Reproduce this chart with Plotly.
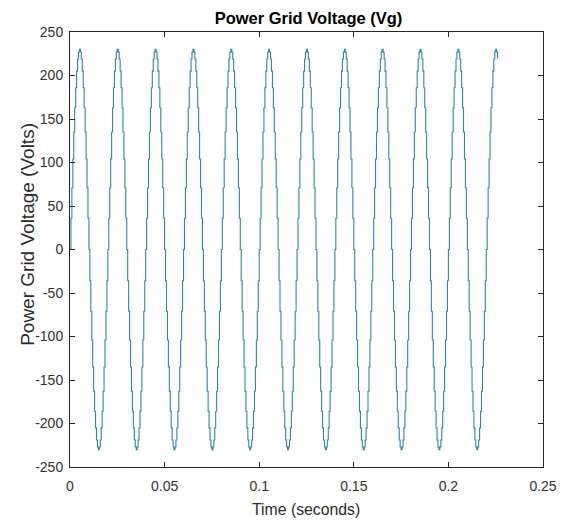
import plotly.graph_objects as go

# Sampling interval of the recorded signal (seconds)
sample_period = 0.0005

# Grid voltage samples (Volts), one per sample period
voltage_v = [
    0, 36, 71, 104, 135, 163, 186, 205, 219, 227, 230, 227, 219, 205, 186, 163, 135, 104, 71, 36,
    0, -36, -71, -104, -135, -163, -186, -205, -219, -227, -230, -227, -219, -205, -186, -163, -135, -104, -71, -36,
    0, 36, 71, 104, 135, 163, 186, 205, 219, 227, 230, 227, 219, 205, 186, 163, 135, 104, 71, 36,
    0, -36, -71, -104, -135, -163, -186, -205, -219, -227, -230, -227, -219, -205, -186, -163, -135, -104, -71, -36,
    0, 36, 71, 104, 135, 163, 186, 205, 219, 227, 230, 227, 219, 205, 186, 163, 135, 104, 71, 36,
    0, -36, -71, -104, -135, -163, -186, -205, -219, -227, -230, -227, -219, -205, -186, -163, -135, -104, -71, -36,
    0, 36, 71, 104, 135, 163, 186, 205, 219, 227, 230, 227, 219, 205, 186, 163, 135, 104, 71, 36,
    0, -36, -71, -104, -135, -163, -186, -205, -219, -227, -230, -227, -219, -205, -186, -163, -135, -104, -71, -36,
    0, 36, 71, 104, 135, 163, 186, 205, 219, 227, 230, 227, 219, 205, 186, 163, 135, 104, 71, 36,
    0, -36, -71, -104, -135, -163, -186, -205, -219, -227, -230, -227, -219, -205, -186, -163, -135, -104, -71, -36,
    0, 36, 71, 104, 135, 163, 186, 205, 219, 227, 230, 227, 219, 205, 186, 163, 135, 104, 71, 36,
    0, -36, -71, -104, -135, -163, -186, -205, -219, -227, -230, -227, -219, -205, -186, -163, -135, -104, -71, -36,
    0, 36, 71, 104, 135, 163, 186, 205, 219, 227, 230, 227, 219, 205, 186, 163, 135, 104, 71, 36,
    0, -36, -71, -104, -135, -163, -186, -205, -219, -227, -230, -227, -219, -205, -186, -163, -135, -104, -71, -36,
    0, 36, 71, 104, 135, 163, 186, 205, 219, 227, 230, 227, 219, 205, 186, 163, 135, 104, 71, 36,
    0, -36, -71, -104, -135, -163, -186, -205, -219, -227, -230, -227, -219, -205, -186, -163, -135, -104, -71, -36,
    0, 36, 71, 104, 135, 163, 186, 205, 219, 227, 230, 227, 219, 205, 186, 163, 135, 104, 71, 36,
    0, -36, -71, -104, -135, -163, -186, -205, -219, -227, -230, -227, -219, -205, -186, -163, -135, -104, -71, -36,
    0, 36, 71, 104, 135, 163, 186, 205, 219, 227, 230, 227, 219, 205, 186, 163, 135, 104, 71, 36,
    0, -36, -71, -104, -135, -163, -186, -205, -219, -227, -230, -227, -219, -205, -186, -163, -135, -104, -71, -36,
    0, 36, 71, 104, 135, 163, 186, 205, 219, 227, 230, 227, 219, 205, 186, 163, 135, 104, 71, 36,
    0, -36, -71, -104, -135, -163, -186, -205, -219, -227, -230, -227, -219, -205, -186, -163, -135, -104, -71, -36,
    0, 36, 71, 104, 135, 163, 186, 205, 219, 227, 230, 227, 219,
]

time_s = [i * sample_period for i in range(len(voltage_v))]

x_tick_vals = [0, 0.05, 0.1, 0.15, 0.2, 0.25]
x_tick_text = ["0", "0.05", "0.1", "0.15", "0.2", "0.25"]
y_tick_vals = [-250, -200, -150, -100, -50, 0, 50, 100, 150, 200, 250]
y_tick_text = ["-250", "-200", "-150", "-100", "-50", "0", "50", "100", "150", "200", "250"]

title_text = "Power Grid Voltage (Vg)"
x_label = "Time (seconds)"
y_label = "Power Grid Voltage (Volts)"

font_family = "Liberation Sans, Arial, sans-serif"
tick_color = "#262626"
label_color = "#2b2b2b"

fig = go.Figure()
fig.add_trace(go.Scatter(
    x=time_s,
    y=voltage_v,
    mode="lines",
    line=dict(color="#2f87a4", width=1.1, shape="hv"),
    showlegend=False,
    hoverinfo="skip",
))

axis_common = dict(
    showline=True,
    linecolor=tick_color,
    linewidth=1,
    mirror="ticks",
    ticks="inside",
    ticklen=5,
    tickcolor=tick_color,
    tickwidth=1,
    showgrid=False,
    zeroline=False,
    tickfont=dict(family=font_family, size=14, color="#333333"),
)

# plot area in pixels: left 70, right 547, top 32, bottom 467
plot_w = 477
plot_h = 435

fig.update_layout(
    width=569,
    height=526,
    margin=dict(l=70, r=22, t=32, b=59),
    paper_bgcolor="white",
    plot_bgcolor="white",
    font=dict(family=font_family, color="black"),
    title=dict(
        text="<b>" + title_text + "</b>",
        x=(70 + 547) / 2 / 569,
        xanchor="center",
        y=1 - 18 / 526,
        yanchor="middle",
        yref="container",
        font=dict(family=font_family, size=16.5, color="black"),
    ),
    xaxis=dict(
        range=[0, 0.25],
        tickvals=x_tick_vals,
        ticktext=x_tick_text,
        ticklabelstandoff=6,
        **axis_common,
    ),
    yaxis=dict(
        range=[-250, 250],
        tickvals=y_tick_vals,
        ticktext=y_tick_text,
        ticklabelstandoff=3,
        **axis_common,
    ),
    annotations=[
        dict(
            text=x_label,
            xref="paper", yref="paper",
            x=(308 - 70) / plot_w,
            y=(467 - 510) / plot_h,
            xanchor="center", yanchor="middle",
            showarrow=False,
            font=dict(family=font_family, size=15.8, color=label_color),
        ),
        dict(
            text=y_label,
            xref="paper", yref="paper",
            x=(27 - 70) / plot_w,
            y=(467 - 234.5) / plot_h,
            xanchor="center", yanchor="middle",
            textangle=-90,
            showarrow=False,
            font=dict(family=font_family, size=19, color=label_color),
        ),
    ],
)

fig.write_html("out.html")
